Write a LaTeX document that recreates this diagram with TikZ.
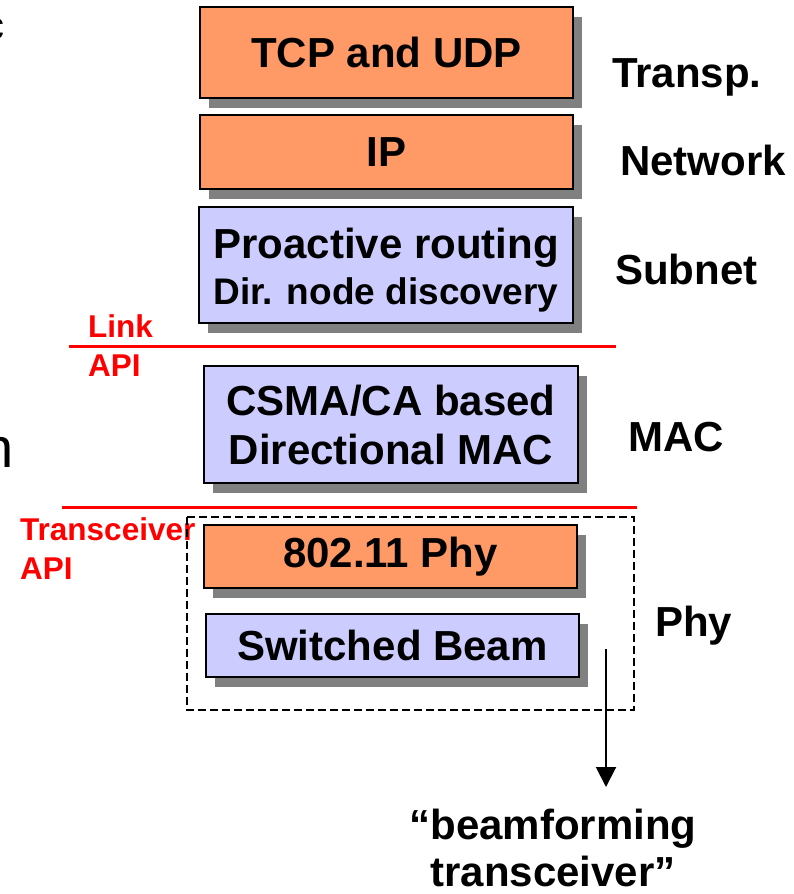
\documentclass[tikz,border=0pt]{standalone}
\usepackage{fontspec}
\setmainfont{Liberation Sans}
\usetikzlibrary{shadows,arrows.meta}
\definecolor{layerorange}{RGB}{255,153,102}
\definecolor{layerlilac}{RGB}{204,204,255}
\definecolor{shadowgray}{RGB}{128,128,128}
\definecolor{apired}{RGB}{255,0,0}
\tikzset{
  layerbox/.style={draw=black, line width=2pt, minimum width=373pt, inner sep=0pt,
    align=center, font=\fontsize{42}{50}\selectfont\bfseries,
    drop shadow={shadow xshift=9pt, shadow yshift=-10pt, fill=shadowgray, opacity=1}},
  orangebox/.style={layerbox, fill=layerorange},
  lilacbox/.style={layerbox, fill=layerlilac},
  boxtext/.style={inner sep=0pt, align=center, font=\fontsize{42}{50}\selectfont\bfseries},
  layername/.style={anchor=base west, inner sep=0pt, font=\fontsize{42}{50}\selectfont\bfseries},
  apilabel/.style={anchor=base west, inner sep=0pt, text=apired, font=\fontsize{31.5}{36}\selectfont\bfseries},
  apiline/.style={draw=apired, line width=3pt},
  stray/.style={anchor=base west, inner sep=0pt, font=\fontsize{56}{60}\selectfont}
}
\begin{document}
\begin{tikzpicture}[x=1pt,y=-1pt]
\useasboundingbox (0,0) rectangle (794,894);
\clip (0,0) rectangle (794,894);

% text running in from the left edge
\node[stray] (strayc) at (-16,39) {\fontsize{40}{44}\selectfont c};
\node[stray] (strayn) at (-18,467) {n};

% protocol layers
\node[orangebox, minimum height=91pt] (tcp) at (386.5,52.5) {TCP and UDP};
\node[orangebox, minimum height=74pt] (ip) at (386.5,152) {IP};
\node[lilacbox, minimum height=116pt, minimum width=374pt] (subnet) at (386,265) {};
\node[boxtext] (subnettext) at (386,270)
  {Proactive routing\\[-4pt]{\fontsize{37}{44}\selectfont Dir. node discovery}};
\node[lilacbox, minimum height=117pt, minimum width=374pt] (mac) at (391,424.5)
  {CSMA/CA based\\[-1pt]Directional MAC};
\node[orangebox, minimum height=63pt] (phy) at (390.5,556.5) {802.11 Phy};
\node[lilacbox, minimum height=63pt] (beam) at (392.5,645.5) {Switched Beam};

% layer names
\node[layername] (ltransp) at (612,87) {Transp.};
\node[layername] (lnet) at (620,175) {Network};
\node[layername] (lsub) at (615,284) {Subnet};
\node[layername] (lmac) at (628,451) {MAC};
\node[layername] (lphy) at (655,636) {Phy};

% API boundaries
\coordinate (linkL) at (69,346);
\coordinate (linkR) at (616,346);
\draw[apiline] (linkL) -- (linkR);
\node[apilabel] (linktop) at (88,337) {Link};
\node[apilabel] (linkbot) at (88,376) {API};

\coordinate (trxL) at (62,507);
\coordinate (trxR) at (637,507);
\draw[apiline] (trxL) -- (trxR);
\node[apilabel] (trxtop) at (20,540) {Transceiver};
\node[apilabel] (trxbot) at (20,579) {API};

% physical layer group
\coordinate (groupNW) at (187,517);
\coordinate (groupSE) at (634,710);
\draw[black, line width=1.5pt, dash pattern=on 8pt off 4pt] (groupNW) rectangle (groupSE);

% pointer to the transceiver note
\coordinate (arrowstart) at (606,649);
\coordinate (arrowend) at (606,787);
\draw[line width=2pt, -{Triangle[width=20pt,length=20pt]}] (arrowstart) -- (arrowend);
\node[align=center, inner sep=0pt, font=\fontsize{42}{47}\selectfont\bfseries] (note) at (553,848)
  {“beamforming\\transceiver”};
\end{tikzpicture}
\end{document}
